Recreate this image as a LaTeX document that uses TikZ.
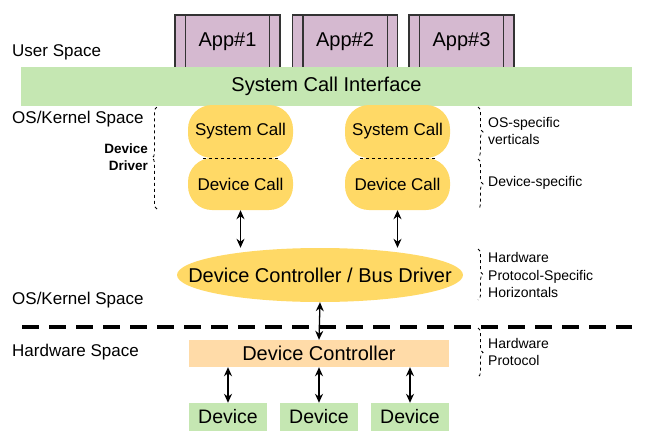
\documentclass[tikz,border=0pt]{standalone}
\usepackage{fontspec}
\setmainfont{Liberation Sans}
\usetikzlibrary{decorations.pathreplacing,arrows.meta,shapes.geometric}
\definecolor{appc}{HTML}{D5B9D0}
\definecolor{appb}{HTML}{333333}
\definecolor{grn}{HTML}{C5E7B2}
\definecolor{yel}{HTML}{FFD966}
\definecolor{peach}{HTML}{FFDBA8}
\begin{document}
\begin{tikzpicture}[x=1pt,y=-1pt,
  app/.style={draw=appb, line width=1.1pt, fill=appc, minimum width=105pt, minimum height=53pt, inner sep=0pt, font=\fontsize{20}{24}\selectfont},
  appline/.style={draw=appb, line width=1.1pt},
  greenbox/.style={fill=grn, inner sep=0pt, font=\fontsize{20}{24}\selectfont},
  callbox/.style={fill=yel, rounded corners=24pt, minimum width=105pt, inner sep=0pt, font=\fontsize{17}{20}\selectfont},
  lbl/.style={anchor=west, inner sep=0pt, font=\fontsize{17}{20}\selectfont},
  side/.style={anchor=west, inner sep=0pt, align=left, font=\fontsize{14}{17.5}\selectfont},
  brc/.style={dashed, line width=0.8pt, decorate, decoration={brace, amplitude=5pt}},
  dbl/.style={{Stealth[length=9pt,width=8pt]}-{Stealth[length=9pt,width=8pt]}, line width=1.3pt},
  devbox/.style={fill=grn, minimum width=78pt, minimum height=28pt, inner sep=0pt, font=\fontsize{19.5}{23}\selectfont}
]
\useasboundingbox (0,0) rectangle (661,447);

% apps
\node[app] (a1) at (227.5,41.5) {App\#1};
\node[app] (a2) at (345,41.5) {App\#2};
\node[app] (a3) at (461.5,41.5) {App\#3};
\foreach \n in {a1,a2,a3}{
  \draw[appline] ([xshift=11pt]\n.north west) -- ([xshift=11pt]\n.south west);
  \draw[appline] ([xshift=-11pt]\n.north east) -- ([xshift=-11pt]\n.south east);
}

% system call interface
\node[greenbox, minimum width=611pt, minimum height=39pt] (sci) at (326.5,86.5) {System Call Interface};

% space labels
\node[lbl] (us) at (12,52) {User Space};
\node[lbl] (ks1) at (12,119) {OS/Kernel Space};
\node[lbl] (ks2) at (12,300) {OS/Kernel Space};
\node[lbl] (hs) at (12,352) {Hardware Space};

% call boxes
\node[callbox, minimum height=53pt] (sc1) at (240.5,131.5) {System Call};
\node[callbox, minimum height=52pt] (dc1) at (240.5,184) {Device Call};
\node[callbox, minimum height=53pt] (sc2) at (397.5,131.5) {System Call};
\node[callbox, minimum height=52pt] (dc2) at (397.5,184) {Device Call};
\draw[dashed, line width=0.7pt] ([xshift=15pt]sc1.south west) -- ([xshift=-15pt]sc1.south east);
\draw[dashed, line width=0.7pt] ([xshift=15pt]sc2.south west) -- ([xshift=-15pt]sc2.south east);

% device driver label and brace
\node[anchor=east, align=right, inner sep=0pt, font=\bfseries\fontsize{13.5}{17}\selectfont] (dd) at (148,157) {Device\\Driver};
\draw[brc] (157,209) -- (157,107);

% right braces and labels
\draw[brc] (478,107) -- (478,157);
\draw[brc] (478,159) -- (478,209);
\draw[brc] (478,249) -- (478,300);
\draw[brc] (478,328) -- (478,377);
\node[side] (t1) at (488,131) {OS-specific\\verticals};
\node[side] (t2) at (488,183) {Device-specific};
\node[side] (t3) at (488,275) {Hardware\\Protocol-Specific\\Horizontals};
\node[side] (t4) at (488,352) {Hardware\\Protocol};

% bus driver
\node[ellipse, fill=yel, minimum width=286pt, minimum height=54pt, inner sep=0pt, font=\fontsize{20}{24}\selectfont] (bus) at (320,275) {\makebox[0pt]{Device Controller / Bus Driver}};

% dashed separator
\draw[line width=4pt, dash pattern=on 17pt off 10pt] (22,327) -- (632,327);

% device controller
\node[fill=peach, minimum width=260pt, minimum height=27pt, inner sep=0pt, font=\fontsize{20}{24}\selectfont] (ctrl) at (319,353.5) {Device Controller};

% devices
\node[devbox] (dev1) at (228,417) {Device};
\node[devbox] (dev2) at (319,417) {Device};
\node[devbox] (dev3) at (410,417) {Device};

% arrows
\draw[dbl] (dc1.south) -- (dc1.south |- bus.north);
\draw[dbl] (dc2.south) -- (dc2.south |- bus.north);
\draw[dbl] (bus.south) -- (ctrl.north);
\draw[dbl] (dev1.north) -- (dev1.north |- ctrl.south);
\draw[dbl] (dev2.north) -- (dev2.north |- ctrl.south);
\draw[dbl] (dev3.north) -- (dev3.north |- ctrl.south);
\end{tikzpicture}
\end{document}
